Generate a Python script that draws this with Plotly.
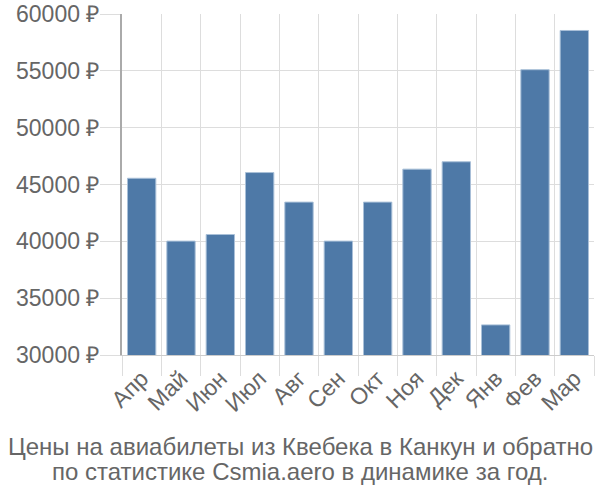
import plotly.graph_objects as go

months = ["Апр", "Май", "Июн", "Июл", "Авг", "Сен", "Окт", "Ноя", "Дек", "Янв", "Фев", "Мар"]
prices = [45550, 40020, 40600, 46050, 43450, 40020, 43450, 46350, 47000, 32650, 55100, 58550]
y_ticks = [30000, 35000, 40000, 45000, 50000, 55000, 60000]
y_labels = [f"{v} ₽" for v in y_ticks]
title_lines = ["Цены на авиабилеты из Квебека в Канкун и обратно",
               "по статистике Csmia.aero в динамике за год."]

fig = go.Figure(go.Bar(
    x=months, y=prices,
    marker=dict(color="#4e79a7", line=dict(color="#a9c0d8", width=1)),
))
fig.update_layout(
    width=600, height=500,
    margin=dict(l=122, r=6, t=14, b=145, autoexpand=False),
    plot_bgcolor="white", paper_bgcolor="white",
    bargap=0.28,
    showlegend=False,
    font=dict(family="Liberation Sans, Arial, sans-serif", color="#666666"),
)
fig.update_xaxes(
    tickson="boundaries", showgrid=True, gridcolor="#dddddd", gridwidth=1,
    ticks="outside", ticklen=20, tickcolor="#dddddd",
    tickangle=-45, tickfont=dict(size=23, color="#666666"),
    showline=True, linecolor="#cccccc", linewidth=1,
    automargin=False,
)
fig.update_yaxes(
    range=[30000, 60000], tickvals=y_ticks, ticktext=y_labels,
    showgrid=True, gridcolor="#dddddd", gridwidth=1,
    ticks="outside", ticklen=20, tickcolor="#dddddd",
    tickfont=dict(size=23, color="#666666"),
    ticklabelstandoff=-4,
    showline=True, linecolor="#aaaaaa", linewidth=2,
    zeroline=False, automargin=False,
)
# title lines, placed in paper coordinates (pixel-derived)
for i, line in enumerate(title_lines):
    yc = 446 + i * 25
    fig.add_annotation(
        text=line, xref="paper", yref="paper",
        x=(300 - 122) / 472, xanchor="center",
        y=(355 - yc) / 341, yanchor="middle",
        showarrow=False,
        font=dict(size=24, color="#666666"),
    )
fig.write_html("out.html")
